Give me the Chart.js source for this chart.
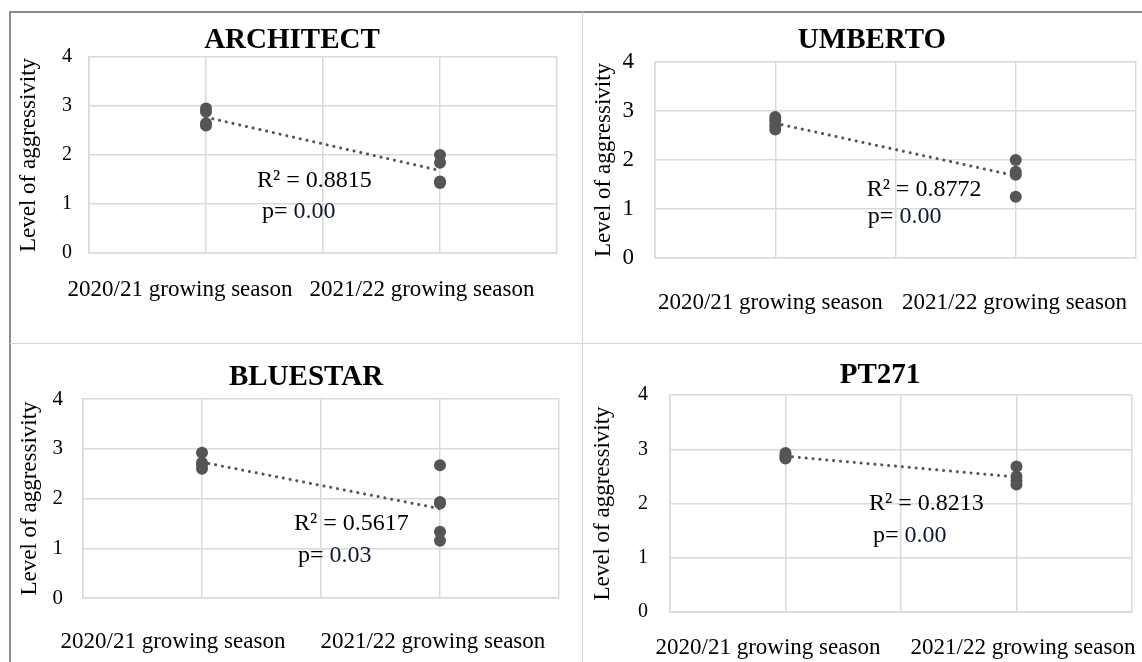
<!DOCTYPE html>
<html>
<head>
<meta charset="utf-8">
<script src="https://cdn.jsdelivr.net/npm/chart.js@4.4.1/dist/chart.umd.min.js"></script>
<style>
  html, body { margin: 0; padding: 0; background: #fff; }
  #page { position: relative; width: 1142px; height: 662px; overflow: hidden; background: #fff; }
  .rule { position: absolute; }
  canvas { position: absolute; display: block; }
</style>
</head>
<body>
<div id="page">
  <canvas id="architect"></canvas>
  <canvas id="umberto"></canvas>
  <canvas id="bluestar"></canvas>
  <canvas id="pt271"></canvas>
  <!-- panel frame -->
  <div class="rule" style="left:9px;top:11px;width:1133px;height:1.5px;background:#8c8c8c"></div>
  <div class="rule" style="left:9px;top:11px;width:1.5px;height:651px;background:#8c8c8c"></div>
  <div class="rule" style="left:581.5px;top:12px;width:1.5px;height:650px;background:#d4d4d4"></div>
  <div class="rule" style="left:10px;top:342.5px;width:1132px;height:1.5px;background:#d4d4d4"></div>
</div>
<script>
// Season categories shown under every panel
const seasons = ['2020/21 growing season', '2021/22 growing season'];
const yTicks = [0, 1, 2, 3, 4];

// Aggressivity levels of the isolates per cultivar and season
const architect2021 = [2.95, 2.88, 2.65, 2.60];
const architect2122 = [2.00, 1.84, 1.46, 1.43];
const umberto2021 = [2.88, 2.80, 2.70, 2.62];
const umberto2122 = [2.00, 1.76, 1.70, 1.25];
const bluestar2021 = [2.92, 2.72, 2.68, 2.60];
const bluestar2122 = [2.67, 1.93, 1.90, 1.33, 1.15];
const pt2712021 = [2.93, 2.88, 2.85, 2.83];
const pt2712122 = [2.68, 2.50, 2.42, 2.35];

// Trend statistics reported in each panel
const cultivars = ['ARCHITECT', 'UMBERTO', 'BLUESTAR', 'PT271'];
const rSquared = ['0.8815', '0.8772', '0.5617', '0.8213'];
const pValues = ['0.00', '0.00', '0.03', '0.00'];

// Season positions on the x axis
const seasonX = [1, 3];

const seriesByPanel = [
  [architect2021, architect2122],
  [umberto2021, umberto2122],
  [bluestar2021, bluestar2122],
  [pt2712021, pt2712122]
];

// Panel geometry (canvas placement, axis sizes, label placement)
const layouts = [
  { id: 'architect', left: 10, top: 13, w: 572, h: 330, padTop: 44, padRight: 25, yW: 79, xH: 90,
    yTitlePad: 5.2, yTickPad: 17, yTickSize: 20, xLabelPad: 23.4, xLabelAt: [0.778, 2.846],
    titleAt: [282, 35], r2At: [1.436, 1.347], pAt: [1.479, 0.714] },
  { id: 'umberto', left: 583, top: 13, w: 559, h: 330, padTop: 49, padRight: 3, yW: 72, xH: 85,
    yTitlePad: 6.9, yTickPad: 21, yTickSize: 23, xLabelPad: 31.4, xLabelAt: [0.959, 2.99],
    titleAt: [289, 35], r2At: [1.76, 1.265], pAt: [1.77, 0.714] },
  { id: 'bluestar', left: 10, top: 344, w: 572, h: 318, padTop: 55, padRight: 23, yW: 73, xH: 64,
    yTitlePad: 6.2, yTickPad: 20, yTickSize: 21, xLabelPad: 30.4, xLabelAt: [0.756, 2.94],
    titleAt: [296, 41], r2At: [1.773, 1.367], pAt: [1.807, 0.724] },
  { id: 'pt271', left: 583, top: 344, w: 559, h: 318, padTop: 51, padRight: 10, yW: 87, xH: 50,
    yTitlePad: 6.2, yTickPad: 22, yTickSize: 20, xLabelPad: 22.4, xLabelAt: [0.848, 3.056],
    titleAt: [297, 39], r2At: [1.723, 1.88], pAt: [1.758, 1.29] }
];

const SERIF = '"Liberation Serif", "Times New Roman", serif';
const MARK = '#555555';
const GRID = '#d9d9d9';

const mean = a => a.reduce((s, v) => s + v, 0) / a.length;

// Least-squares line through all points of a panel
function trendLine(groups) {
  const xs = [], ys = [];
  groups.forEach((g, i) => g.forEach(v => { xs.push(seasonX[i]); ys.push(v); }));
  const mx = mean(xs), my = mean(ys);
  let sxy = 0, sxx = 0;
  xs.forEach((x, i) => { sxy += (x - mx) * (ys[i] - my); sxx += (x - mx) * (x - mx); });
  const slope = sxy / sxx, icpt = my - slope * mx;
  return seasonX.map(x => ({ x, y: icpt + slope * x }));
}

// Panel title plus R² / p annotation
const panelText = {
  id: 'panelText',
  afterDraw(chart, args, o) {
    const { ctx, scales } = chart;
    const x = scales.x, y = scales.y;
    ctx.save();
    ctx.fillStyle = '#000';
    ctx.textBaseline = 'alphabetic';
    ctx.font = 'bold 29px ' + SERIF;
    ctx.textAlign = 'center';
    ctx.fillText(o.title, o.titleAt[0], o.titleAt[1]);
    ctx.font = '24px ' + SERIF;
    ctx.textAlign = 'left';
    ctx.fillText('R\u00B2 = ' + o.r2, x.getPixelForValue(o.r2At[0]), y.getPixelForValue(o.r2At[1]));
    const px = x.getPixelForValue(o.pAt[0]), py = y.getPixelForValue(o.pAt[1]);
    ctx.fillText('p=', px, py);
    const w = ctx.measureText('p= ').width;
    ctx.fillStyle = '#0e1830';
    ctx.fillText(o.p, px + w, py);
    ctx.restore();
  }
};

layouts.forEach((L, k) => {
  const cv = document.getElementById(L.id);
  cv.width = L.w; cv.height = L.h;
  cv.style.left = L.left + 'px'; cv.style.top = L.top + 'px';
  cv.style.width = L.w + 'px'; cv.style.height = L.h + 'px';

  const groups = seriesByPanel[k];
  const points = [];
  groups.forEach((g, i) => g.forEach(v => points.push({ x: seasonX[i], y: v })));

  new Chart(cv, {
    type: 'scatter',
    data: {
      datasets: [
        { data: points, backgroundColor: MARK, borderWidth: 0, pointRadius: 6, order: 0 },
        { data: trendLine(groups), showLine: true, pointRadius: 0, borderColor: MARK,
          borderWidth: 3, borderDash: [0.1, 6.8], borderCapStyle: 'round', order: 1 }
      ]
    },
    options: {
      responsive: false,
      animation: false,
      events: [],
      layout: { padding: { left: 0, top: L.padTop, right: L.padRight, bottom: 0 } },
      plugins: {
        legend: { display: false },
        tooltip: { enabled: false },
        panelText: { title: cultivars[k], r2: rSquared[k], p: pValues[k],
                     titleAt: L.titleAt, r2At: L.r2At, pAt: L.pAt }
      },
      scales: {
        x: {
          type: 'linear', position: 'bottom', min: 0, max: 4,
          ticks: { display: false, stepSize: 1 },
          grid: { color: GRID, lineWidth: 1.5, drawTicks: false },
          border: { color: GRID, width: 1.5 },
          afterFit: s => { s.height = 0; s.paddingLeft = 0; s.paddingRight = 0; }
        },
        x2: {
          type: 'linear', position: 'bottom', min: 0, max: 4,
          grid: { display: false, drawTicks: false },
          border: { display: false },
          afterBuildTicks: s => { s.ticks = L.xLabelAt.map(v => ({ value: v })); },
          ticks: {
            autoSkip: false, maxRotation: 0, minRotation: 0, padding: L.xLabelPad,
            color: '#000', font: { family: SERIF, size: 23 },
            callback: (v, i) => seasons[i]
          },
          afterFit: s => { s.height = L.xH; s.paddingLeft = 0; s.paddingRight = 0; }
        },
        y: {
          type: 'linear', min: yTicks[0], max: yTicks[yTicks.length - 1],
          afterBuildTicks: s => { s.ticks = yTicks.map(v => ({ value: v })); },
          ticks: { padding: L.yTickPad, color: '#000', font: { family: SERIF, size: L.yTickSize } },
          grid: { color: GRID, lineWidth: 1.5, drawTicks: false },
          border: { color: GRID, width: 1.5 },
          title: { display: true, text: 'Level of aggressivity', color: '#000',
                   font: { family: SERIF, size: 23 }, padding: { top: L.yTitlePad, bottom: 0 } },
          afterFit: s => { s.width = L.yW; }
        }
      }
    },
    plugins: [panelText]
  });
});
</script>
</body>
</html>
